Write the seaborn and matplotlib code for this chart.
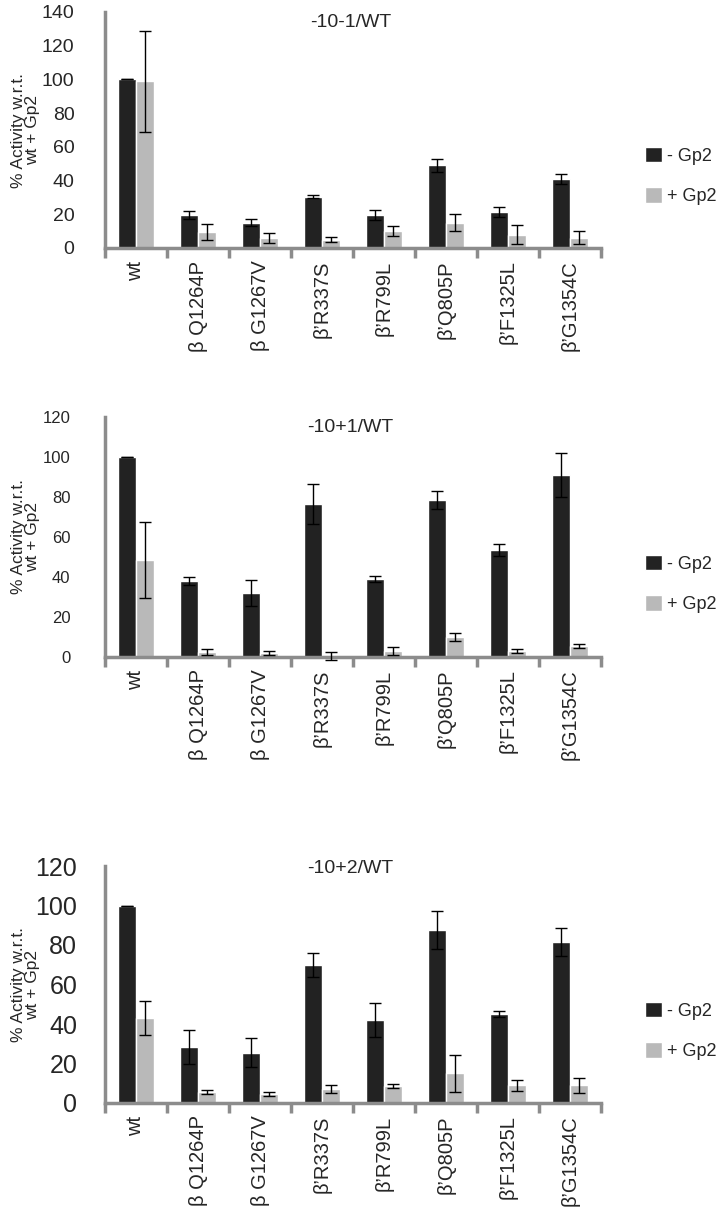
import matplotlib
matplotlib.use("Agg")
import matplotlib.pyplot as plt
import pandas as pd
import seaborn as sns
from matplotlib.ticker import FixedLocator

categories = ["wt", "\u03b2 Q1264P", "\u03b2 G1267V", "\u03b2\u2019R337S", "\u03b2\u2019R799L",
              "\u03b2\u2019Q805P", "\u03b2\u2019F1325L", "\u03b2\u2019G1354C"]
hue_labels = ["- Gp2", "+ Gp2"]

# -10-1/WT
p1_minus = [100, 19.5, 15, 30.5, 19.5, 49, 21.5, 41]
p1_minus_err = [0, 2.2, 2.2, 0.8, 3, 4, 3, 3]
p1_plus = [99, 9.5, 6, 5, 10, 15, 8, 6]
p1_plus_err = [30, 5, 3, 1.7, 2.8, 5, 5.4, 3.8]

# -10+1/WT
p2_minus = [100, 38, 32, 76.5, 39, 78.5, 53.5, 91]
p2_minus_err = [0, 1.8, 6.5, 10, 1.5, 4.5, 3, 11]
p2_plus = [48.5, 2.5, 2, 0.3, 3, 10, 3, 5.5]
p2_plus_err = [19, 1.5, 1, 2, 1.8, 2, 1, 1]

# -10+2/WT
p3_minus = [100, 28.5, 25.5, 70, 42, 87.5, 45, 81.5]
p3_minus_err = [0, 8.5, 7.5, 6, 8.5, 9.5, 1.5, 7]
p3_plus = [43, 5.5, 4.5, 7, 8.5, 15, 9, 9]
p3_plus_err = [8.5, 1, 1, 2, 1, 9.5, 2.8, 3.8]

titles = ["-10-1/WT", "-10+1/WT", "-10+2/WT"]
ymax = [140, 120, 120]

DARK = "#222222"
LIGHT = "#b9b9b9"
SPINE = "#8c8c8c"

sns.set_style("white")
plt.rcParams["font.family"] = ["Liberation Sans", "DejaVu Sans"]

W, H = 720, 1221
fig = plt.figure(figsize=(W / 100, H / 100), dpi=100)


def px_axes(left, top, right, bottom):
    return fig.add_axes([left / W, 1 - bottom / H, (right - left) / W, (bottom - top) / H])


# box (px), y tick font, y tick pad, title pos (axes), legend centre y (px)
panels = [
    (p1_minus, p1_minus_err, p1_plus, p1_plus_err, (105, 12, 601, 248), 14, 17, (0.495, 0.955), 176),
    (p2_minus, p2_minus_err, p2_plus, p2_plus_err, (105, 417, 601, 657), 12, 20, (0.495, 0.955), 584),
    (p3_minus, p3_minus_err, p3_plus, p3_plus_err, (105, 866, 601, 1103), 18, 15, (0.495, 0.99), 1031),
]

for i, (mn, mn_e, pl, pl_e, box, tick_fs, tick_pad, tpos, leg_y) in enumerate(panels):
    ax = px_axes(*box)
    df = pd.DataFrame({
        "mutant": categories * 2,
        "cond": [hue_labels[0]] * len(categories) + [hue_labels[1]] * len(categories),
        "value": mn + pl,
    })
    sns.barplot(data=df, x="mutant", y="value", hue="cond", order=categories,
                hue_order=hue_labels, palette=[DARK, LIGHT], width=0.57,
                errorbar=None, saturation=1, ax=ax, legend=True)
    for cont, errs in zip(ax.containers, [mn_e, pl_e]):
        xs = [b.get_x() + b.get_width() / 2 for b in cont]
        ys = [b.get_height() for b in cont]
        ax.errorbar(xs, ys, yerr=errs, fmt="none", ecolor="black", elinewidth=1,
                    capsize=4.5, capthick=1, clip_on=False, zorder=5)

    ax.set_ylim(0, ymax[i])
    ax.set_xlim(-0.5, len(categories) - 0.5)
    ax.set_yticks(range(0, ymax[i] + 1, 20))
    for s in ["top", "right"]:
        ax.spines[s].set_visible(False)
    for s in ["left", "bottom"]:
        ax.spines[s].set_color(SPINE)
        ax.spines[s].set_linewidth(2.5)
    ax.tick_params(axis="y", which="major", direction="out", length=5, width=2.5,
                   color=SPINE, labelsize=tick_fs, pad=tick_pad)
    ax.tick_params(axis="x", which="major", length=0, labelsize=14.5, pad=9)
    ax.xaxis.set_minor_locator(FixedLocator([k - 0.5 for k in range(len(categories) + 1)]))
    ax.tick_params(axis="x", which="minor", direction="out", length=7, width=2.5,
                   color=SPINE, bottom=True)
    ax.set_xticks(range(len(categories)))
    ax.set_xticklabels(categories, rotation=90)
    ax.set_xlabel("")
    ax.set_ylabel("% Activity w.r.t.\nwt + Gp2", fontsize=12.5, linespacing=1.0)
    ax.yaxis.set_label_coords(-0.13, 0.5)
    ax.text(tpos[0], tpos[1], titles[i], transform=ax.transAxes, ha="center",
            va="center", fontsize=14)

    handles, labels = ax.get_legend_handles_labels()
    ax.get_legend().remove()
    fig.legend(handles, labels, loc="center left",
               bbox_to_anchor=(638 / W, 1 - leg_y / H), frameon=False,
               fontsize=13, handlelength=0.95, handleheight=0.95,
               handletextpad=0.25, labelspacing=1.25, borderaxespad=0)

fig.savefig("out.png", dpi=100)
